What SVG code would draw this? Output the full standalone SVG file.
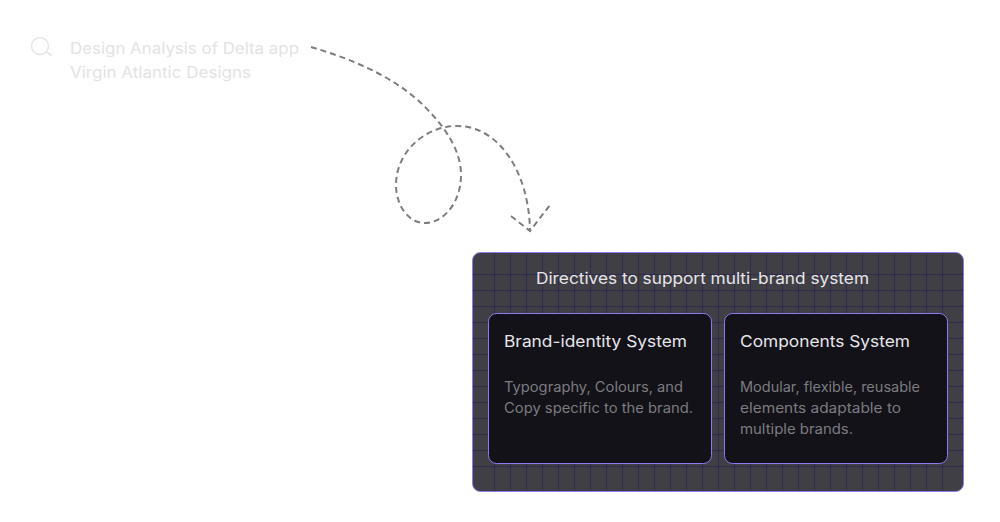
<svg xmlns="http://www.w3.org/2000/svg" width="1000" height="522" viewBox="0 0 1000 522">
<defs>
<style>
text{font-family:"Inter","Noto Sans","Liberation Sans",sans-serif}
.q{font-size:16px;font-weight:400;fill:#e3e3e5}
.h{font-size:16px;font-weight:400;fill:#e6e6e9}
.b{font-size:14px;fill:#7c7c81}
.card{fill:#131218;stroke:#8a7cf0;stroke-width:1}
.g{stroke:#302c4c;stroke-width:1;fill:none}
.d{fill:none;stroke:#7d7d82;stroke-width:2;stroke-dasharray:6 4}
</style>
</defs>
<rect width="1000" height="522" fill="#fff"/>
<g id="connectors">
<path class="d" d="M311 47C352 59 395 77 424 106C445 127 461 150 461 175C461 203 443 223 425 223C408 223 396 205 396 185C396 152 425 126 457 126C499 126 529 172 530 231"/>
<path class="d" d="M511 216L530 231L550 205"/>
</g>
<g id="query">
<g fill="none" stroke="#e6e6e7" stroke-width="1.5"><circle cx="40" cy="46" r="8.500"/><path d="M46.500 52L52 55.500"/></g>
<text class="q" x="70" y="54" textLength="229" lengthAdjust="spacingAndGlyphs">Design Analysis of Delta app</text>
<text class="q" x="70" y="78" textLength="181" lengthAdjust="spacingAndGlyphs">Virgin Atlantic Designs</text>
</g>
<g id="directives">
<rect x="472.500" y="252.500" width="491" height="239" rx="8" fill="#403f45"/>
<path class="g" d="M494.500 253V491M510.500 253V491M526.500 253V491M542.500 253V491M558.500 253V491M574.500 253V491M590.500 253V491M606.500 253V491M622.500 253V491M638.500 253V491M654.500 253V491M670.500 253V491M686.500 253V491M702.500 253V491M718.500 253V491M734.500 253V491M750.500 253V491M766.500 253V491M782.500 253V491M798.500 253V491M814.500 253V491M830.500 253V491M846.500 253V491M862.500 253V491M878.500 253V491M894.500 253V491M910.500 253V491M926.500 253V491M942.500 253V491M473 274.500H963M473 290.500H963M473 306.500H963M473 322.500H963M473 338.500H963M473 354.500H963M473 370.500H963M473 386.500H963M473 402.500H963M473 418.500H963M473 434.500H963M473 450.500H963M473 466.500H963"/>
<rect x="472.500" y="252.500" width="491" height="239" rx="8" fill="none" stroke="#8a7cf0"/>
<text class="h" x="536" y="284" textLength="333" lengthAdjust="spacingAndGlyphs">Directives to support multi-brand system</text>
</g>
<g id="brand-identity">
<rect class="card" x="488.500" y="313.500" width="223" height="150" rx="8"/>
<text class="h" x="504" y="347" textLength="183" lengthAdjust="spacingAndGlyphs">Brand-identity System</text>
<text class="b" x="504" y="392" textLength="179" lengthAdjust="spacingAndGlyphs">Typography, Colours, and</text>
<text class="b" x="504" y="413" textLength="189" lengthAdjust="spacingAndGlyphs">Copy specific to the brand.</text>
</g>
<g id="components">
<rect class="card" x="724.500" y="313.500" width="223" height="150" rx="8"/>
<text class="h" x="740" y="347" textLength="170" lengthAdjust="spacingAndGlyphs">Components System</text>
<text class="b" x="740" y="392" textLength="180" lengthAdjust="spacingAndGlyphs">Modular, flexible, reusable</text>
<text class="b" x="740" y="413" textLength="161" lengthAdjust="spacingAndGlyphs">elements adaptable to</text>
<text class="b" x="740" y="434" textLength="113" lengthAdjust="spacingAndGlyphs">multiple brands.</text>
</g>
</svg>
